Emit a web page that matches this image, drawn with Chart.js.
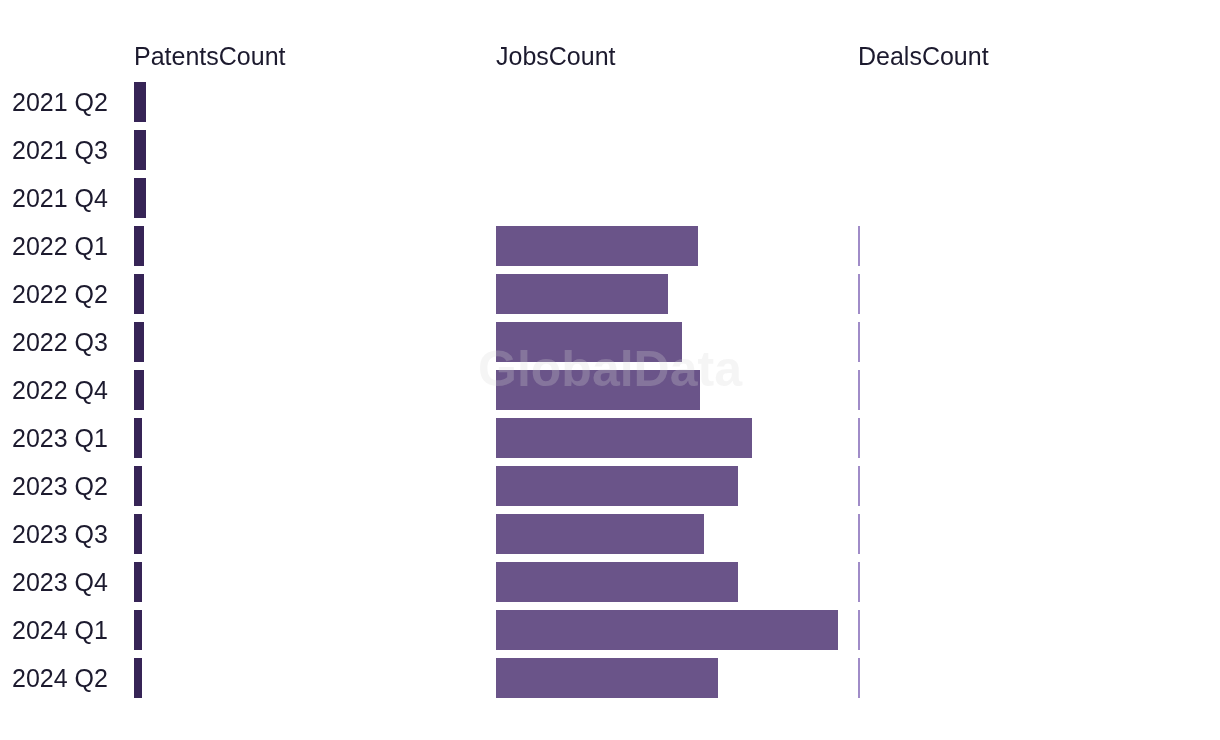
<!DOCTYPE html>
<html>
<head>
<meta charset="utf-8">
<script src="https://cdn.jsdelivr.net/npm/chart.js@4.4.1/dist/chart.umd.min.js"></script>
<style>
  html, body { margin: 0; padding: 0; background: #fff; }
  #wrap { width: 1220px; height: 740px; position: relative; }
</style>
</head>
<body>
<div id="wrap"><canvas id="chart"></canvas></div>
<script>
'use strict';

var quarters = ['2021 Q2', '2021 Q3', '2021 Q4', '2022 Q1', '2022 Q2', '2022 Q3', '2022 Q4',
                '2023 Q1', '2023 Q2', '2023 Q3', '2023 Q4', '2024 Q1', '2024 Q2'];
var panelTitles = ['PatentsCount', 'JobsCount', 'DealsCount'];
var patentsCount = [6, 6, 6, 5, 5, 5, 5, 4, 4, 4, 4, 4, 4];
var jobsCount = [null, null, null, 101, 86, 93, 102, 128, 121, 104, 121, 171, 111];
var dealsCount = [null, null, null, 1, 1, 1, 1, 1, 1, 1, 1, 1, 1];

// every panel shares the same scale width
var panelSpan = 181;
var fontFamily = '"Liberation Sans", Arial, sans-serif';

function floating(values, panel) {
    var start = panel * panelSpan;
    return values.map(function (v) {
        return v === null ? null : [start, start + v];
    });
}

var panelPlugin = {
    id: 'panels',
    afterDraw: function (chart) {
        var ctx = chart.ctx;
        var xs = chart.scales.x;
        ctx.save();
        // titles
        ctx.font = '25px ' + fontFamily;
        ctx.fillStyle = '#1c1a2e';
        ctx.textAlign = 'left';
        ctx.textBaseline = 'middle';
        panelTitles.forEach(function (t, i) {
            ctx.fillText(t, xs.getPixelForValue(i * panelSpan), 58);
        });
        // watermark
        ctx.font = 'bold 50px ' + fontFamily;
        ctx.fillStyle = 'rgba(215, 215, 215, 0.25)';
        ctx.textAlign = 'center';
        ctx.fillText('GlobalData', 610, 372);
        ctx.restore();
    }
};

var ctx = document.getElementById('chart');

var chart = new Chart(ctx, {
    type: 'bar',
    data: {
        labels: quarters,
        datasets: [
            {
                label: 'PatentsCount',
                data: floating(patentsCount, 0),
                backgroundColor: '#362456'
            },
            {
                label: 'JobsCount',
                data: floating(jobsCount, 1),
                backgroundColor: '#6a5489'
            },
            {
                label: 'DealsCount',
                data: floating(dealsCount, 2),
                backgroundColor: '#a08cc8'
            }
        ]
    },
    options: {
        indexAxis: 'y',
        responsive: true,
        maintainAspectRatio: false,
        animation: false,
        grouped: false,
        categoryPercentage: 1,
        barPercentage: 40 / 48,
        borderSkipped: false,
        layout: { padding: { top: 78, bottom: 38, left: 12, right: 0 } },
        plugins: {
            legend: { display: false },
            tooltip: { enabled: false }
        },
        scales: {
            x: {
                display: false,
                min: 0,
                max: panelSpan * 3
            },
            y: {
                grid: { display: false },
                border: { display: false },
                ticks: {
                    crossAlign: 'far',
                    color: '#1c1a2e',
                    padding: 0,
                    labelOffset: 2,
                    font: { family: fontFamily, size: 25 }
                },
                afterFit: function (scale) {
                    scale.width = 122;
                }
            }
        }
    },
    plugins: [panelPlugin]
});
</script>
</body>
</html>
